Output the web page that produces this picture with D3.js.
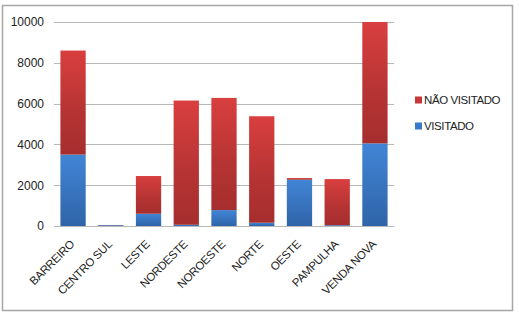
<!DOCTYPE html>
<html><head><meta charset="utf-8">
<script src="https://cdn.jsdelivr.net/npm/d3@7"></script>
<style>body{margin:0;background:#fff}</style>
</head><body>
<svg id="c" width="519" height="316"></svg>
<script>
const categories = ["BARREIRO","CENTRO SUL","LESTE","NORDESTE","NOROESTE","NORTE","OESTE","PAMPULHA","VENDA NOVA"];
const visitado = [3500, 40, 600, 60, 780, 160, 2270, 40, 4050];
const naoVisitado = [5100, 10, 1850, 6090, 5500, 5220, 80, 2260, 5950];
const yTicks = [0, 2000, 4000, 6000, 8000, 10000];
const seriesNames = ["VISITADO", "NÃO VISITADO"];

const svg = d3.select("#c");
const font = "Liberation Sans, Arial, sans-serif";
svg.append("rect").attr("x",2.5).attr("y",5.5).attr("width",510).attr("height",305)
  .attr("fill","#fff").attr("stroke","#a6a6a6").attr("stroke-width",1.5);

const defs = svg.append("defs");
const gr = defs.append("linearGradient").attr("id","gRed").attr("x1",0).attr("x2",0).attr("y1",0).attr("y2",1);
gr.append("stop").attr("offset","0%").attr("stop-color","#d93f3f");
gr.append("stop").attr("offset","60%").attr("stop-color","#b53333");
gr.append("stop").attr("offset","100%").attr("stop-color","#a62e2e");
const gb = defs.append("linearGradient").attr("id","gBlue").attr("x1",0).attr("x2",0).attr("y1",0).attr("y2",1);
gb.append("stop").attr("offset","0%").attr("stop-color","#4185d6");
gb.append("stop").attr("offset","100%").attr("stop-color","#2f64a8");

const x = d3.scaleBand().domain(categories).range([54, 394]).paddingInner(0.33).paddingOuter(0.17);
const y = d3.scaleLinear().domain([0, 10000]).range([226, 22]);

const g = svg.append("g");
g.selectAll("line.grid").data(yTicks).join("line").attr("class","grid")
  .attr("x1",54).attr("x2",394).attr("y1",d=>Math.round(y(d))+0.5).attr("y2",d=>Math.round(y(d))+0.5)
  .attr("stroke","#b8b8b8").attr("stroke-width",1);

const yAxis = d3.axisLeft(y).tickValues(yTicks).tickFormat(d3.format("d")).tickSize(0).tickPadding(10);
const ya = svg.append("g").attr("transform","translate(54,0)").call(yAxis);
ya.select(".domain").remove();
ya.selectAll("text").attr("font-family",font).attr("font-size",12).attr("fill","#222");

const data = categories.map((c,i)=>({c, v:visitado[i], n:naoVisitado[i]}));
g.selectAll("rect.v").data(data).join("rect").attr("class","v")
  .attr("x",d=>x(d.c)).attr("width",x.bandwidth())
  .attr("y",d=>y(d.v)).attr("height",d=>y(0)-y(d.v)).attr("fill","url(#gBlue)");
g.selectAll("rect.n").data(data).join("rect").attr("class","n")
  .attr("x",d=>x(d.c)).attr("width",x.bandwidth())
  .attr("y",d=>y(d.v+d.n)).attr("height",d=>y(d.v)-y(d.v+d.n)).attr("fill","url(#gRed)");

const xAxis = d3.axisBottom(x).tickSize(0);
const xa = svg.append("g").attr("transform","translate(0,226)").call(xAxis);
xa.select(".domain").attr("stroke","#b8b8b8");
xa.selectAll("text").attr("font-family",font).attr("font-size",11.5).attr("fill","#222")
  .attr("text-anchor","end").attr("dy",0).attr("y",0).attr("letter-spacing",-0.3)
  .attr("transform","translate(2,19) rotate(-45)");

const leg = svg.append("g");
const legItems = [{name:seriesNames[1], fill:"#c83838", y:100},{name:seriesNames[0], fill:"#3a78c8", y:126}];
leg.selectAll("rect").data(legItems).join("rect").attr("x",415).attr("y",d=>d.y-3.5).attr("width",7).attr("height",7).attr("fill",d=>d.fill);
leg.selectAll("text").data(legItems).join("text").attr("x",424).attr("y",d=>d.y+4).text(d=>d.name)
  .attr("font-family",font).attr("font-size",11.5).attr("fill","#222").attr("letter-spacing",-0.4);
</script>
</body></html>
